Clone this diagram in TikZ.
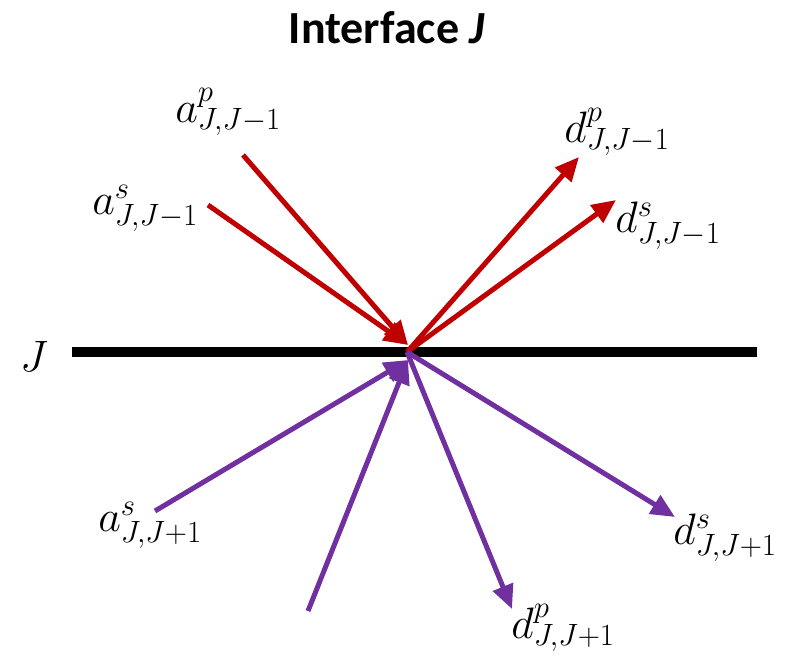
\RequirePackage{fix-cm}
\documentclass[tikz,border=0pt]{standalone}
\usepackage{fontspec}
\setmainfont{Carlito}
\usetikzlibrary{arrows.meta}

\definecolor{upred}{HTML}{C00000}
\definecolor{downpurple}{HTML}{7030A0}

\begin{document}
\begin{tikzpicture}[x=1pt, y=-1pt, >={Triangle[length=24pt, width=21pt]},
    ray/.style={line width=5pt, ->},
    lbl/.style={inner sep=0pt, font=\fontsize{44}{48}\selectfont}]
        \useasboundingbox (0,0) rectangle (796,670);

        % --- title ---
        \node[anchor=base, inner sep=0pt, font=\fontsize{46}{50}\selectfont\bfseries] (title) at (387,43) {Interface \textit{J}};

        % --- interface J ---
        \coordinate (Jleft) at (72,352);
        \coordinate (Jright) at (757,352);
        \draw[line width=10pt] (Jleft) -- (Jright);
        \node[lbl] (Jlbl) at (34,356) {$J$};

        % --- meeting points on the interface ---
        \coordinate (Otop) at (408,345);
        \coordinate (Obot) at (408,360);
        \coordinate (Oout) at (407,352);

        % --- free ends of the rays ---
        \coordinate (aJmp) at (243,155);
        \coordinate (aJms) at (208,205);
        \coordinate (dJmp) at (579,157);
        \coordinate (dJms) at (616,200);
        \coordinate (aJps) at (155,511);
        \coordinate (aJpp) at (308,611);
        \coordinate (dJpp) at (512,609);
        \coordinate (dJps) at (675,517);

        % --- rays from layer J-1 ---
        \foreach \e in {aJmp,aJms} { \draw[ray, upred] (\e) -- (Otop); }
        \foreach \e in {dJmp,dJms} { \draw[ray, upred] (Oout) -- (\e); }

        % --- rays from layer J+1 ---
        \foreach \e in {aJps,aJpp} { \draw[ray, downpurple] (\e) -- (Obot); }
        \foreach \e in {dJpp,dJps} { \draw[ray, downpurple] (Oout) -- (\e); }

        % --- labels ---
        \node[lbl] (aJmpl) at (228,112) {$a^{p}_{J,J-1}$};
        \node[lbl] (aJmsl) at (145,208) {$a^{s}_{J,J-1}$};
        \node[lbl] (dJmpl) at (617,132) {$d^{p}_{J,J-1}$};
        \node[lbl] (dJmsl) at (668,226) {$d^{s}_{J,J-1}$};
        \node[lbl] (aJpsl) at (150,525) {$a^{s}_{J,J+1}$};
        \node[lbl] (dJpsl) at (725,538) {$d^{s}_{J,J+1}$};
        \node[lbl] (dJppl) at (563,628) {$d^{p}_{J,J+1}$};
\end{tikzpicture}
\end{document}
